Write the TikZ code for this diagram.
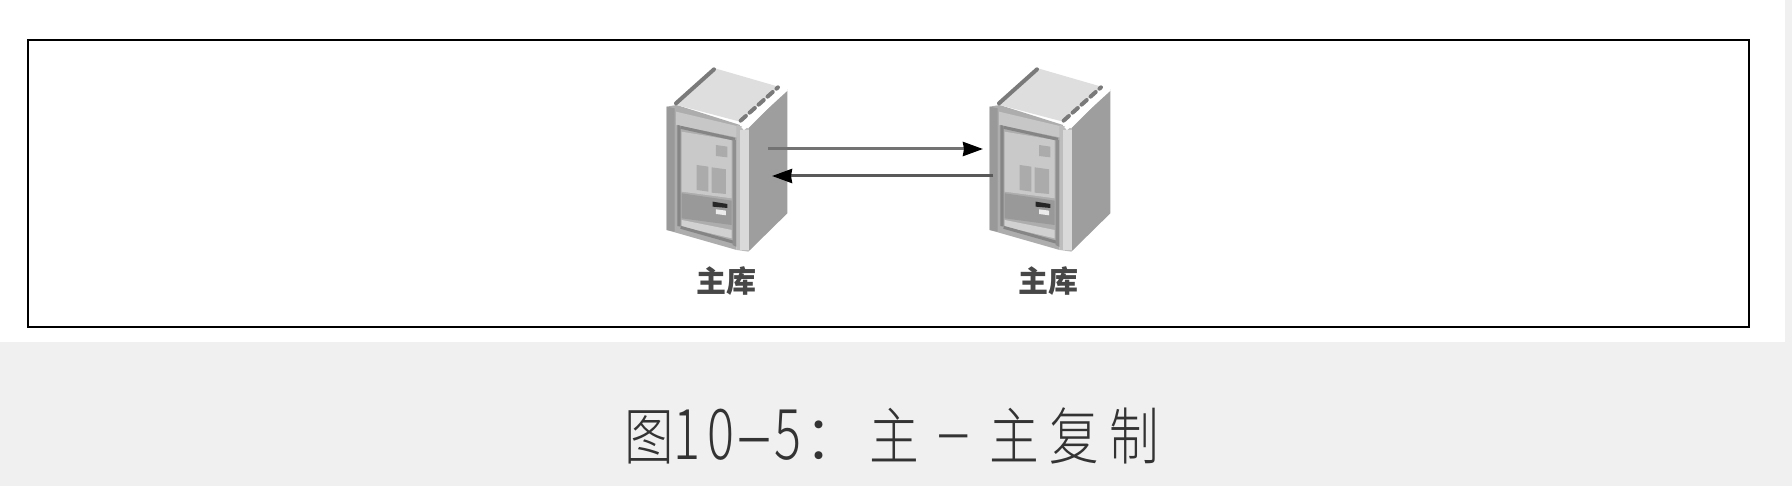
\documentclass[tikz,border=0pt]{standalone}
\usepackage{fontspec}
\usepackage{graphicx}
\usetikzlibrary{arrows.meta}
\newfontfamily\cjk{Noto Sans CJK SC}
\newfontfamily\cjklight[UprightFont=* Light]{Noto Sans CJK SC}
\definecolor{pagegrey}{HTML}{F0F0F0}
\definecolor{capink}{HTML}{333333}
\tikzset{
  x=1pt,y=-1pt,
  frame/.style={draw=black,line width=2pt,fill=white},
  srvlabel/.style={font=\cjk\fontsize{30}{30}\selectfont\bfseries,text=black!72,inner sep=0pt},
  link/.style={line width=3pt,-{Stealth[length=20pt,width=14pt,inset=1pt,color=black]}},
  facetop/.style={fill=black!13},
  faceside/.style={fill=black!38},
  facefront/.style={fill=black!32},
  pillar/.style={fill=black!26},
  panel/.style={fill=black!21},
  lowpanel/.style={fill=black!40},
  slot/.style={fill=black!33},
  rim/.style={draw=black!52,line width=4pt,line cap=round},
}
\newcommand{\srv}[2]{%
 \begin{scope}[shift={(#2,50)},x=0.3333pt,y=-0.3333pt]
  \fill[facefront] (80,170)--(110,165)--(300,225)--(290,600)--(80,540)--cycle;
  \fill[facetop] (110,165)--(225,55)--(415,110)--(300,215)--cycle;
  \fill[faceside] (325,235)--(442,118)--(442,490)--(325,605)--cycle;
  \fill[pillar] (290,225)--(325,235)--(325,605)--(290,600)--cycle;
  \fill[black!40] (80,170)--(104,175)--(104,545)--(80,540)--cycle;
  \fill[black!22] (108,185)--(290,228)--(290,262)--(108,225)--cycle;
  \fill[black!48] (112,225)--(122,227)--(122,530)--(112,528)--cycle;
  \fill[panel] (125,245)--(275,270)--(275,445)--(125,425)--cycle;
  \fill[lowpanel] (125,430)--(275,452)--(275,525)--(125,505)--cycle;
  \fill[black!18] (125,510)--(275,540)--(275,565)--(125,530)--cycle;
  \draw[black!48,line width=3pt] (122,232)--(285,268);
  \draw[black!48,line width=3pt] (122,532)--(285,578);
  \fill[black!44] (278,268)--(288,270)--(288,590)--(278,585)--cycle;
  \fill[slot] (228,285)--(262,290)--(262,322)--(228,318)--cycle;
  \fill[slot] (170,345)--(205,350)--(205,425)--(170,420)--cycle;
  \fill[slot] (215,352)--(258,358)--(258,432)--(215,428)--cycle;
  \fill[black!85] (218,455)--(262,462)--(262,474)--(218,470)--cycle;
  \fill[black!8] (228,478)--(258,482)--(258,496)--(228,492)--cycle;
  \draw[rim] (108,160)--(222,58);
  \draw[rim,dash pattern=on 7pt off 5pt] (302,212)--(414,112);
  \draw[white,line width=4pt] (308,236)--(440,116);
  \draw[black!15,line width=9pt] (315,240)--(315,600);
  \coordinate (#1right) at (385,0);
  \coordinate (#1left) at (90,0);
 \end{scope}}
\newcommand{\cjkch}[2][60pt]{\makebox[#1]{\scalebox{0.8}[1]{#2}}}
\newcommand{\numch}[2][0.72]{\makebox[33.7pt]{\scalebox{#1}[1]{\fontsize{70}{70}\selectfont #2}}}
\begin{document}
\begin{tikzpicture}
 \useasboundingbox (0,0) rectangle (1792,486);
 \fill[pagegrey] (0,0) rectangle (1792,486);
 \fill[white] (0,0) rectangle (1785,342);
 \node[frame,minimum width=1721pt,minimum height=287pt,inner sep=0pt,anchor=north west] (box) at (27,39.5) {};
 \srv{a}{640}
 \srv{b}{963}
 \node[srvlabel] (la) at (726,281) {主库};
 \node[srvlabel] (lb) at (1048,281) {主库};
 \coordinate (aout) at (aright |- 0,149);
 \coordinate (bin) at (983,149);
 \coordinate (bout) at (bleft |- 0,176);
 \coordinate (ain) at (772,176);
 \draw[link,draw=black!55] (aout) -- (bin);
 \draw[link,draw=black!65] (bout) -- (ain);
 \node[anchor=base west,inner sep=0pt,text=capink,font=\cjklight\fontsize{62}{62}\selectfont] (cap) at (629,459)
  {\cjkch[41pt]{图}\numch{1}\numch{0}\numch[1.7]{-}\numch{5}\makebox[59pt]{：}\cjkch{主}\makebox[60pt]{\scalebox{0.62}[1]{－}}\cjkch{主}\cjkch{复}\cjkch{制}};
\end{tikzpicture}
\end{document}
